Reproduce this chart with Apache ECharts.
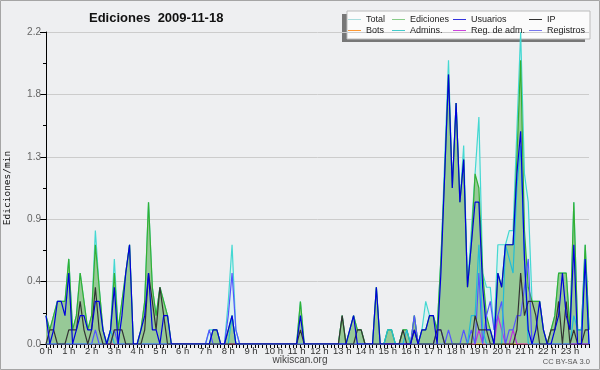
<!DOCTYPE html>
<html>
<head>
<meta charset="utf-8">
<script src="https://cdn.jsdelivr.net/npm/echarts@6/dist/echarts.min.js"></script>
<style>
html, body { margin: 0; padding: 0; background: #eeeff1; }
#main { width: 600px; height: 370px; }
</style>
</head>
<body>
<div id="main"></div>
<script>
// ediciones por minuto, tramos de 10 minutos (144 por dia)
var hourLabels = ['0 h','1 h','2 h','3 h','4 h','5 h','6 h','7 h','8 h','9 h','10 h','11 h',
    '12 h','13 h','14 h','15 h','16 h','17 h','18 h','19 h','20 h','21 h','22 h','23 h'];
var yTicks = [0, 0.44, 0.88, 1.32, 1.76, 2.2];

var total = [
    .2,.1,.2,.3,.3,.3,.6,.1,.2,.5,.3,.1,.2,.8,.4,.1,0,.1,.6,.1,.3,.5,.7,0,
    0,.1,.3,1.0,.4,.2,.4,.3,.2,0,0,0,0,0,0,0,0,0,0,.1,.1,.1,0,0,
    .3,.7,.1,0,0,0,0,0,0,0,0,0,0,0,0,0,0,0,0,.3,0,0,0,0,
    0,0,0,0,0,0,.2,0,.1,.2,.1,.1,0,0,0,.4,0,0,.1,.1,0,0,.1,.1,
    0,.2,0,.1,.3,.2,.2,.1,.6,1.3,2.0,1.1,1.7,1.0,1.4,.4,.8,1.2,1.6,.5,.4,.4,.1,.7,
    .7,.7,.8,.8,1.5,2.2,1.2,1.0,.3,.3,.3,.1,0,.1,.2,.5,.5,.5,.1,1.0,.1,.1,.7,.1
];
var ediciones = [
    .2,.1,.2,.3,.3,.3,.6,.1,.2,.5,.3,.1,.2,.7,.4,.1,0,.1,.5,.1,.3,.5,.7,0,
    0,.1,.3,1.0,.4,.2,.4,.3,.2,0,0,0,0,0,0,0,0,0,0,0,.1,.1,0,0,
    .1,.2,0,0,0,0,0,0,0,0,0,0,0,0,0,0,0,0,0,.3,0,0,0,0,
    0,0,0,0,0,0,.2,0,.1,.2,.1,.1,0,0,0,.4,0,0,.1,.1,0,0,.1,.1,
    0,.2,0,.1,.1,.2,.2,.1,.6,1.2,1.9,1.1,1.7,1.0,1.3,.4,.7,1.2,1.1,.5,.2,.1,0,.5,
    .4,.7,.7,.7,1.3,2.0,.8,.4,.3,.3,.3,.1,0,.1,.2,.5,.5,.5,.1,1.0,.1,.1,.7,.1
];
var usuarios = [
    .2,0,.1,.3,.3,.2,.5,0,.1,.2,.2,.1,.1,.3,.3,.1,0,.1,.4,0,.2,.5,.7,0,
    0,.1,.2,.5,.1,.1,0,.2,.2,0,0,0,0,0,0,0,0,0,0,0,.1,.1,0,0,
    .1,.2,0,0,0,0,0,0,0,0,0,0,0,0,0,0,0,0,0,.2,0,0,0,0,
    0,0,0,0,0,0,0,0,.1,.2,0,0,0,0,0,.4,0,0,0,0,0,0,0,0,
    0,.1,0,.1,.1,.2,.2,0,.5,1.2,1.9,1.1,1.7,1.0,1.3,.4,.7,1.0,1.0,.4,.1,.1,0,.5,
    .4,.7,.7,.7,1.2,1.5,.6,.1,0,.1,.3,.1,0,0,.1,.2,.5,.2,.1,.7,0,0,.6,0
];
var ip = [
    0,.1,.1,0,0,0,.1,.1,.1,.3,.1,0,.1,.4,.1,0,0,0,.1,.1,.1,0,0,0,
    0,0,.1,.5,.3,.1,.4,.2,0,0,0,0,0,0,0,0,0,0,0,0,0,0,0,0,
    0,0,0,0,0,0,0,0,0,0,0,0,0,0,0,0,0,0,0,.1,0,0,0,0,
    0,0,0,0,0,0,.2,0,0,0,.1,.1,0,0,0,0,0,0,0,0,0,0,.1,0,
    0,.1,0,0,0,0,0,.1,.1,0,0,0,0,0,0,0,0,.2,.1,.1,.1,0,0,0,
    0,0,0,0,.1,.5,.2,.3,.3,.2,0,0,0,.1,.1,.3,0,.3,0,.1,0,0,.1,.1
];
var bots = [
    0,0,0,0,0,0,0,0,0,0,0,0,0,0,0,0,0,0,0,0,0,0,0,0,
    0,0,0,0,0,0,0,0,0,0,0,0,0,0,0,0,0,0,0,0,0,0,0,0,
    0,0,0,0,0,0,0,0,0,0,0,0,0,0,0,0,0,0,0,0,0,0,0,0,
    0,0,0,0,0,0,0,0,0,0,0,0,0,0,0,0,0,0,0,0,0,0,0,0,
    0,0,0,0,0,0,0,0,0,0,0,0,0,0,0,0,0,0,0,0,0,0,0,0,
    0,0,0,0,0,0,0,0,0,0,0,0,0,0,0,0,0,0,0,0,0,0,0,0
];
var admins = [
    0,0,0,0,0,0,0,0,0,0,0,0,0,0,0,0,0,.1,0,0,0,0,0,0,
    0,0,0,0,0,0,0,0,0,0,0,0,0,0,0,0,0,0,0,0,0,0,0,0,
    0,.2,0,0,0,0,0,0,0,0,0,0,0,0,0,0,0,0,0,0,0,0,0,0,
    0,0,0,0,0,0,0,0,0,0,0,0,0,0,0,0,0,0,.1,.1,0,0,0,.1,
    0,0,0,0,0,0,0,0,0,0,0,0,0,0,0,0,.2,.2,.7,.1,0,0,0,0,
    0,.7,.6,.5,1.1,1.4,.6,0,0,0,0,0,0,0,0,0,0,0,0,.2,.1,.1,.6,0
];
var regAdm = [
    0,0,0,0,0,0,0,0,0,0,0,0,0,0,0,0,0,0,0,0,0,0,0,0,
    0,0,0,0,0,0,0,0,0,0,0,0,0,0,0,0,0,0,0,0,0,0,0,0,
    0,0,0,0,0,0,0,0,0,0,0,0,0,0,0,0,0,0,0,0,0,0,0,0,
    0,0,0,0,0,0,0,0,0,0,0,0,0,0,0,0,0,0,0,0,0,0,0,0,
    0,0,0,0,0,0,0,0,0,0,0,0,0,0,0,0,0,0,.1,0,0,0,0,.2,
    .1,0,0,.1,0,0,0,0,0,0,0,0,0,0,0,0,0,0,0,0,0,0,0,0
];
var registros = [
    0,0,0,0,0,0,0,0,0,0,0,0,0,.1,0,0,0,0,.1,0,0,0,0,0,
    0,0,0,0,0,0,0,0,0,0,0,0,0,0,0,0,0,0,0,.1,0,0,0,0,
    .2,.5,.1,0,0,0,0,0,0,0,0,0,0,0,0,0,0,0,0,0,0,0,0,0,
    0,0,0,0,0,0,0,0,0,0,0,0,0,0,0,0,0,0,0,0,0,0,0,0,
    0,.2,0,0,0,0,0,.1,.1,0,.1,0,0,0,.1,0,.1,0,.5,0,.2,.3,.1,.2,
    .3,0,.1,.1,.2,.2,.4,.6,0,0,0,0,0,0,0,0,0,0,0,0,0,0,0,0
];

var slots = [];
for (var i = 0; i < total.length; i++) slots.push(String(i));

var font = 'Liberation Sans';

function lineSerie(name, data, color, z) {
    return {
        name: name,
        type: 'line',
        data: data,
        symbol: 'none',
        z: z,
        lineStyle: { color: color, width: 1.2 },
        itemStyle: { color: color }
    };
}

function legendCol(left, names, colors) {
    return {
        orient: 'vertical',
        left: left,
        top: 14,
        padding: 0,
        itemGap: 0,
        itemWidth: 13,
        itemHeight: 1,
        icon: 'rect',
        selectedMode: false,
        textStyle: { fontFamily: font, fontSize: 9, color: '#222', lineHeight: 11, padding: [0, 0, 0, 0] },
        data: [
            { name: names[0], itemStyle: { color: colors[0] } },
            { name: names[1], itemStyle: { color: colors[1] } }
        ]
    };
}

var myChart = echarts.init(document.getElementById('main'), null, { renderer: 'canvas' });
var option = {
    backgroundColor: '#eeeff1',
    animation: false,
    title: {
        text: 'Ediciones  2009-11-18',
        left: 84,
        top: 7,
        textStyle: { fontFamily: font, fontSize: 13, fontWeight: 'bold', color: '#111' }
    },
    legend: [
        legendCol(348, ['Total', 'Bots'], ['#aadddd', '#ff9933']),
        legendCol(392, ['Ediciones', 'Admins.'], ['#88cc88', '#44cccc']),
        legendCol(453, ['Usuarios', 'Reg. de adm.'], ['#3333dd', '#cc44dd']),
        legendCol(529, ['IP', 'Registros'], ['#333333', '#7777ee'])
    ],
    grid: { left: 46, right: 11, top: 32, bottom: 26, outerBoundsMode: 'none', containLabel: false },
    xAxis: {
        type: 'category',
        data: slots,
        boundaryGap: false,
        axisLine: { lineStyle: { color: '#000', width: 1 } },
        axisTick: { interval: 0, length: 4, lineStyle: { color: '#000' } },
        axisLabel: {
            interval: function (idx) { return idx % 6 === 0; },
            formatter: function (v, idx) { return hourLabels[idx / 6]; },
            fontFamily: font,
            fontSize: 9.5,
            color: '#333',
            margin: 2
        },
        splitLine: { show: false }
    },
    yAxis: {
        type: 'value',
        min: 0,
        max: yTicks[yTicks.length - 1],
        interval: yTicks[1],
        name: 'Ediciones/min',
        nameLocation: 'middle',
        nameGap: 33,
        nameTextStyle: { fontFamily: 'DejaVu Sans Mono', fontSize: 9.5, color: '#111' },
        axisLine: { show: true, lineStyle: { color: '#000', width: 1 } },
        axisTick: { show: true, length: 6, lineStyle: { color: '#000' } },
        minorTick: { show: true, splitNumber: 2, length: 3, lineStyle: { color: '#000' } },
        axisLabel: {
            formatter: function (v) { return v.toFixed(1); },
            fontFamily: font,
            fontSize: 10,
            color: '#666',
            margin: 5
        },
        splitLine: { show: true, lineStyle: { color: '#cccccc', width: 1 } }
    },
    graphic: [
        { type: 'rect', z: -1, shape: { x: 342, y: 14, width: 243, height: 28 }, style: { fill: '#777' } },
        { type: 'rect', z: -1, shape: { x: 347, y: 11, width: 243, height: 28 }, style: { fill: '#fbfbfb', stroke: '#bbbbbb', lineWidth: 1 } },
        { type: 'text', left: 'center', top: 355, style: { text: 'wikiscan.org', font: '10px "Liberation Sans"', fill: '#444' } },
        { type: 'text', right: 10, top: 358, style: { text: 'CC BY-SA 3.0', font: '7.5px "Liberation Sans"', fill: '#555' } },
        { type: 'rect', z: 100, silent: true, shape: { x: 0.5, y: 0.5, width: 599, height: 369 }, style: { fill: 'none', stroke: '#a5a5a5', lineWidth: 1 } }
    ],
    series: [
        {
            name: 'Total', type: 'line', data: total, symbol: 'none', z: 1,
            lineStyle: { color: '#44d8d2', width: 1.2 },
            itemStyle: { color: '#44d8d2' },
            areaStyle: { color: '#dcf1f0', opacity: 1 }
        },
        {
            name: 'Ediciones', type: 'line', data: ediciones, symbol: 'none', z: 2,
            lineStyle: { color: '#33b033', width: 1.2 },
            itemStyle: { color: '#33b033' },
            areaStyle: { color: '#97c997', opacity: 1 }
        },
        lineSerie('Bots', bots, '#ff9933', 3),
        lineSerie('Reg. de adm.', regAdm, '#bb33dd', 4),
        lineSerie('Registros', registros, '#5555ff', 5),
        lineSerie('Admins.', admins, '#22bcd6', 6),
        lineSerie('IP', ip, '#333333', 7),
        lineSerie('Usuarios', usuarios, '#0000dd', 8)
    ]
};
myChart.setOption(option);
</script>
</body>
</html>
